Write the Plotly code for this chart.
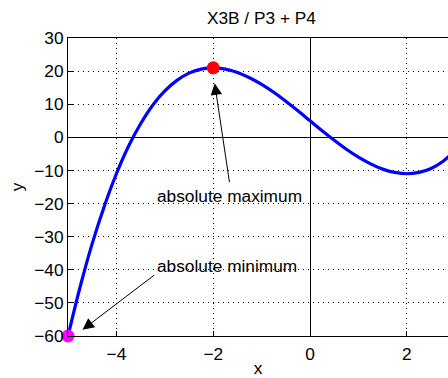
import plotly.graph_objects as go

# curve samples
x_vals = [-5.0, -4.75, -4.5, -4.25, -4.0, -3.75, -3.5, -3.25, -3.0, -2.75, -2.5, -2.25,
          -2.0, -1.75, -1.5, -1.25, -1.0, -0.75, -0.5, -0.25, 0.0, 0.25, 0.5, 0.75,
          1.0, 1.25, 1.5, 1.75, 2.0, 2.25, 2.5, 2.75, 3.0]
y_vals = [-60.0, -45.2, -32.1, -20.8, -11.0, -2.7, 4.1, 9.7, 14.0, 17.2, 19.4, 20.6,
          21.0, 20.6, 19.6, 18.0, 16.0, 13.6, 10.9, 8.0, 5.0, 2.0, -0.9, -3.6,
          -6.0, -8.0, -9.6, -10.6, -11.0, -10.6, -9.4, -7.2, -4.0]

max_pt = (-2.0, 21.0)
min_pt = (-5.0, -60.0)

x_ticks = [-4, -2, 0, 2]
y_ticks = [30, 20, 10, 0, -10, -20, -30, -40, -50, -60]

title_text = "X3B / P3 + P4"
label_max = "absolute maximum"
label_min = "absolute minimum"

FONT = "Liberation Sans, Arial, sans-serif"
FS = 17.3

fig = go.Figure()
fig.add_trace(go.Scatter(x=x_vals, y=y_vals, mode="lines",
                         line=dict(color="#0000ff", width=3.2, shape="spline"),
                         showlegend=False, hoverinfo="skip"))
fig.add_trace(go.Scatter(x=[max_pt[0]], y=[max_pt[1]], mode="markers",
                         marker=dict(color="#ff0000", size=13), cliponaxis=False,
                         showlegend=False))
fig.add_trace(go.Scatter(x=[min_pt[0]], y=[min_pt[1]], mode="markers",
                         marker=dict(color="#ff00ff", size=13), cliponaxis=False,
                         showlegend=False))

# text labels
fig.add_annotation(x=-1.66, y=-17.6, xref="x", yref="y", text=label_max, showarrow=False,
                   font=dict(family=FONT, size=FS, color="black"))
fig.add_annotation(x=-1.725, y=-39.0, xref="x", yref="y", text=label_min, showarrow=False,
                   font=dict(family=FONT, size=FS, color="black"))
# arrows
fig.add_annotation(x=-1.97, y=16.3, xref="x", yref="y", ax=-1.66, ay=-14.0,
                   axref="x", ayref="y", text="", showarrow=True,
                   arrowhead=2, arrowsize=2.3, arrowwidth=1, arrowcolor="black")
fig.add_annotation(x=-4.70, y=-58.1, xref="x", yref="y", ax=-3.19, ay=-41.3,
                   axref="x", ayref="y", text="", showarrow=True,
                   arrowhead=2, arrowsize=2.3, arrowwidth=1, arrowcolor="black")

axis_common = dict(
    showgrid=True, gridcolor="black", gridwidth=1, griddash="1px,4px",
    zeroline=True, zerolinecolor="black", zerolinewidth=1,
    showline=True, linecolor="black", linewidth=1,
    ticks="inside", ticklen=5, tickcolor="black", tickwidth=1,
    tickfont=dict(family=FONT, size=FS, color="black"),
)

fig.update_xaxes(range=[-5, 2.85], tickvals=x_ticks, mirror=True, ticklabelstandoff=2,
                 title=dict(text="x", font=dict(family=FONT, size=FS, color="black"), standoff=0),
                 **axis_common)
fig.update_yaxes(range=[-60, 30], tickvals=y_ticks, mirror=False,
                 title=dict(text="y", font=dict(family=FONT, size=FS, color="black"), standoff=6),
                 **axis_common)

fig.update_layout(
    width=448, height=378,
    margin=dict(l=68, r=0, t=38, b=42, autoexpand=False),
    plot_bgcolor="white", paper_bgcolor="white",
    title=dict(text=title_text, x=0.509, xref="paper", y=1 - 18 / 378, yref="container",
               xanchor="center", yanchor="middle",
               font=dict(family=FONT, size=FS, color="black")),
    font=dict(family=FONT, size=FS, color="black"),
)

fig.write_html("out.html", config={"displayModeBar": False},
               post_script="document.body.style.margin='0';document.body.style.overflow='hidden';")
